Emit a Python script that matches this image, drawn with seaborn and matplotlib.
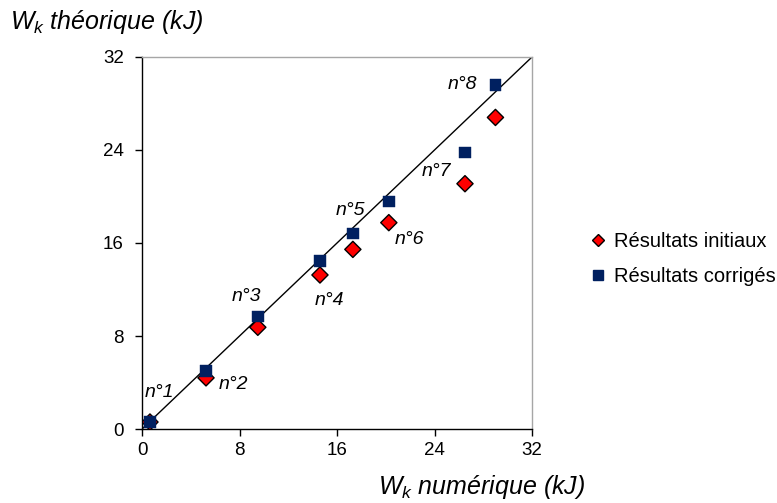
import matplotlib
matplotlib.use("Agg")
import matplotlib.pyplot as plt
from matplotlib.lines import Line2D
import pandas as pd
import seaborn as sns

# data (kJ)
labels = ["n°1", "n°2", "n°3", "n°4", "n°5", "n°6", "n°7", "n°8"]
x_num = [0.65, 5.25, 9.5, 14.6, 17.3, 20.25, 26.5, 29.0]
y_init = [0.6, 4.4, 8.75, 13.25, 15.45, 17.75, 21.1, 26.8]
y_corr = [0.6, 5.0, 9.7, 14.45, 16.8, 19.55, 23.8, 29.6]
ticks = [0, 8, 16, 24, 32]
# label offsets (points) relative to the corrected point
label_offsets = [(6.5, 21), (19.5, -10), (-8, 14), (7, -28.5),
                 (-2, 17), (15, -27.5), (-20.5, -13.7), (-23.5, 0)]

RED = "#ff0000"
NAVY = "#002060"

df = pd.DataFrame({
    "x": x_num * 2,
    "y": y_init + y_corr,
    "serie": ["Résultats initiaux"] * len(x_num) + ["Résultats corrigés"] * len(x_num),
})

sns.set_theme(style="white")
plt.rcParams["font.family"] = ["Liberation Sans", "DejaVu Sans"]
plt.rcParams["mathtext.fontset"] = "custom"
plt.rcParams["mathtext.it"] = "Liberation Sans:italic"
plt.rcParams["mathtext.rm"] = "Liberation Sans"
plt.rcParams["text.color"] = "black"
plt.rcParams["xtick.color"] = "black"
plt.rcParams["ytick.color"] = "black"

fig = plt.figure(figsize=(7.77, 5.03), dpi=100)
ax = fig.add_axes([0.1828, 0.1471, 0.5019, 0.7396])

ax.plot([0, 32], [0, 32], color="black", lw=1, zorder=1)

sns.scatterplot(
    data=df, x="x", y="y", hue="serie", style="serie",
    palette={"Résultats initiaux": RED, "Résultats corrigés": NAVY},
    markers={"Résultats initiaux": "D", "Résultats corrigés": "s"},
    s=68, ax=ax, zorder=3, legend=False,
)
# diamonds get a black edge, squares none
pts = ax.collections[0]
pts.set_edgecolors(["black"] * len(x_num) + [NAVY] * len(x_num))
pts.set_linewidths([1.0] * len(x_num) + [0.3] * len(x_num))

for lab, xv, yv, off in zip(labels, x_num, y_corr, label_offsets):
    ax.annotate(lab, (xv, yv), xytext=off, textcoords="offset points",
                ha="center", va="center", fontsize=14, style="italic")

ax.set_xlim(0, 32)
ax.set_ylim(0, 32)
ax.set_xticks(ticks)
ax.set_yticks(ticks)
ax.tick_params(axis="x", direction="out", length=5, width=1, labelsize=13.5, pad=4, bottom=True)
ax.tick_params(axis="y", direction="out", length=5, width=1, labelsize=13.5, pad=8, left=True)
ax.set_xlabel("")
ax.set_ylabel("")
for side in ["left", "bottom"]:
    ax.spines[side].set_color("black")
    ax.spines[side].set_linewidth(1)
for side in ["top", "right"]:
    ax.spines[side].set_color("#a6a6a6")
    ax.spines[side].set_linewidth(1)

fig.text(10 / 777, 1 - 22 / 503, r"$W_k$ théorique (kJ)", fontsize=18, style="italic",
         ha="left", va="center")
fig.text(378 / 777, 1 - 487 / 503, r"$W_k$ numérique (kJ)", fontsize=18, style="italic",
         ha="left", va="center")

handles = [
    Line2D([], [], marker="D", ls="", markerfacecolor=RED, markeredgecolor="black",
           markersize=6.5),
    Line2D([], [], marker="s", ls="", markerfacecolor=NAVY, markeredgecolor=NAVY,
           markersize=7.5),
]
fig.legend(handles, ["Résultats initiaux", "Résultats corrigés"], loc="center left",
           bbox_to_anchor=(578 / 777, 1 - 259 / 503), frameon=False, fontsize=14.5,
           handletextpad=0.2, labelspacing=0.75, handlelength=1.2, borderaxespad=0)

fig.savefig("out.png", dpi=100)
